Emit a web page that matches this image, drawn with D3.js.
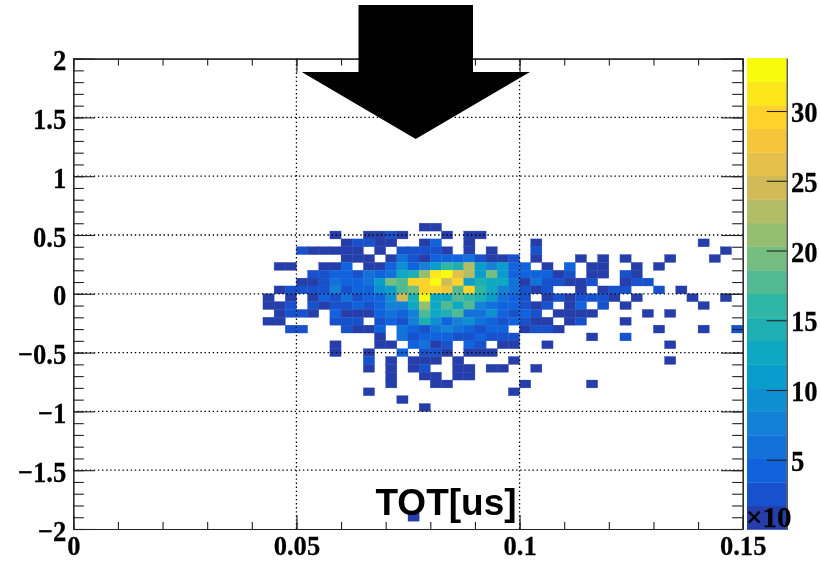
<!DOCTYPE html>
<html>
<head>
<meta charset="utf-8">
<script src="https://cdnjs.cloudflare.com/ajax/libs/d3/7.8.5/d3.min.js"></script>
<style>
html,body{margin:0;padding:0;background:#fff}
svg{display:block;filter:blur(0.4px)}
.tick text,.lab{font-family:"Liberation Serif",serif;font-weight:bold;font-size:29px;fill:#000;stroke:#000;stroke-width:.25}
.axis path,.axis line{stroke:#222;stroke-width:1.1;fill:none}
.grid line{stroke:#000;stroke-width:1.3;stroke-dasharray:1.4 2.7}
</style>
</head>
<body>
<svg id="c" width="820" height="561"></svg>
<script>
// ---- data ----
const xDomain = [0, 0.15];
const yDomain = [-2, 2];
const binsPerAxis = 60;
const xMajor = [0, 0.05, 0.1, 0.15];
const xLabels = ["0", "0.05", "0.1", "0.15"];
const yMajor = [-2, -1.5, -1, -0.5, 0, 0.5, 1, 1.5, 2];
const yLabels = ["\u22122", "\u22121.5", "\u22121", "\u22120.5", "0", "0.5", "1", "1.5", "2"];
const zMax = 33.8;
const zLevels = 20;
const zTicks = [5, 10, 15, 20, 25, 30];
const xTitle = "TOT[us]";
const zExponent = "\u00d710";
const birdR = [0.2082, 0.0592, 0.0780, 0.0232, 0.1802, 0.5301, 0.8186, 0.9956, 0.9764];
const birdG = [0.1664, 0.3599, 0.5041, 0.6419, 0.7178, 0.7492, 0.7328, 0.7862, 0.9832];
const birdB = [0.5293, 0.8684, 0.8385, 0.7914, 0.6425, 0.4662, 0.3499, 0.1968, 0.0539];
// y bin index (0 = just above y=0), first x bin of the run, then the counts
const rowBin = [8, 7, 6, 5, 4, 3, 2, 1, 0, -1, -2, -3, -4, -5, -6, -7, -8, -9, -10, -11, -12, -13, -14, -15, -29];
const rowStart = [31, 23, 24, 20, 24, 18, 21, 20, 18, 17, 17, 18, 17, 19, 27, 23, 23, 26, 26, 28, 28, 26, 29, 31, 30];
const rowCounts = [
  [1,1],
  [1,0,0,1,1,3,1,0,0,0,1,0,1,1],
  [1,3,3,1,1,0,0,1,4,0,0,1,0,0,0,0,0,1,0,0,0,0,0,0,0,0,0,0,0,0,0,0,1],
  [3,1,1,1,1,1,0,1,0,3,3,3,3,1,0,1,0,1,0,0,0,3,0,0,0,0,0,0,0,0,0,0,0,0,0,0,0,0,1],
  [1,1,1,0,1,6,3,1,4,4,4,6,3,1,1,3,0,1,0,0,0,1,0,1,0,1,0,0,0,1,0,0,0,1],
  [1,1,0,0,1,1,4,0,1,1,4,9,4,8,11,16,14,23,11,8,11,4,4,0,1,0,4,0,1,1,0,0,1,0,1],
  [3,3,4,4,3,6,4,6,13,14,21,31,33,26,23,11,19,11,4,4,4,4,1,3,0,1,1,0,3,1],
  [1,1,3,6,4,4,6,11,19,18,29,29,33,24,29,11,14,13,13,6,1,6,3,3,1,1,3,0,0,1,3,3],
  [1,3,3,3,3,8,3,4,4,9,11,18,19,29,29,28,18,29,16,13,8,6,3,1,3,0,0,1,0,1,3,3,0,0,3,0,1],
  [1,0,1,0,1,4,3,6,3,4,4,9,24,14,33,13,13,18,16,14,11,6,4,3,0,1,3,1,3,3,3,1,0,1,0,0,0,0,1,0,0,1],
  [1,1,3,0,3,1,3,3,4,3,4,8,8,13,21,13,18,13,18,8,6,4,4,3,1,3,0,1,4,0,3,0,1,0,0,0,0,0,0,1],
  [1,3,3,1,0,4,1,1,1,4,6,4,8,18,13,14,18,6,6,9,4,3,4,3,0,1,1,1,1,0,0,0,0,1,0,1],
  [1,1,0,0,0,0,3,3,3,0,3,4,3,8,14,9,4,8,9,6,4,3,4,3,1,1,0,1,3,0,0,0,1],
  [3,3,0,0,0,3,1,1,4,0,6,4,3,6,8,6,4,3,4,4,0,1,3,3,1,0,0,0,0,0,0,0,0,1,0,0,0,1,0,0,3],
  [1,0,6,3,4,4,4,3,3,4,3,3,3,0,0,0,0,0,0,1,0,0,3],
  [1,0,0,0,1,1,0,4,6,1,3,0,4,3,0,1,1,0,0,1,0,0,0,0,0,0,0,0,0,0,1],
  [1,0,0,1,0,0,4,0,3,3,1,0,1,1,1],
  [3,0,1,0,1,1,1,0,1,0,0,0,0,1,0,0,0,0,0,0,0,0,0,0,0,0,0,1],
  [1,0,1,0,1,3,0,0,1,1,0,1,1,0,0,1],
  [1,0,0,1,1,0,1,1],
  [1,0,0,0,1,1,0,0,0,0,0,0,1,0,0,0,0,0,1],
  [1,0,0,0,0,0,0,0,0,0,0,0,0,1],
  [1],
  [1],
  [1]
];
const arrowShaftX = [358.5, 473];
const arrowHeadX = [301.7, 415.7, 530];
const arrowY = [5, 72, 139];

// ---- scales ----
const x = d3.scaleLinear().domain(xDomain).range([73.3, 742.7]);
const y = d3.scaleLinear().domain(yDomain).range([529, 58.6]);
const z = d3.scaleLinear().domain([0, zMax]).range([529.5, 58]);
const stopT = birdR.map((_, i) => i / (birdR.length - 1));
const toRGB = (a) => d3.scaleLinear().domain(stopT).range(a.map(v => v * 255));
const rS = toRGB(birdR), gS = toRGB(birdG), bS = toRGB(birdB);
const band = d3.scaleQuantize().domain([0, zMax]).range(d3.range(zLevels));
const bandColor = k => { const t = (k + 1) / zLevels; return d3.rgb(rS(t), gS(t), bS(t)).formatHex(); };
const narrow = "scale(0.92,1)";

const svg = d3.select("#c");
svg.append("rect").attr("width", 820).attr("height", 561).attr("fill", "#fff");

// ---- cells ----
const cells = [];
rowBin.forEach((r, i) => rowCounts[i].forEach((v, j) => {
  if (v > 0) cells.push({ col: rowStart[i] + j, row: r, v });
}));
const xw = (xDomain[1] - xDomain[0]) / binsPerAxis;
const yw = (yDomain[1] - yDomain[0]) / binsPerAxis;
svg.append("g").selectAll("rect").data(cells).join("rect")
  .attr("x", d => x(d.col * xw))
  .attr("y", d => y((d.row + 1) * yw))
  .attr("width", x(xw) - x(0))
  .attr("height", y(0) - y(yw))
  .attr("fill", d => bandColor(band(d.v)))
  .attr("stroke", d => bandColor(band(d.v)))
  .attr("stroke-width", 0.35);

// ---- grid ----
const grid = svg.append("g").attr("class", "grid");
grid.selectAll(".gx").data(xMajor.slice(1, -1)).join("line")
  .attr("class", "gx")
  .attr("x1", d => x(d)).attr("x2", d => x(d)).attr("y1", y(yDomain[0])).attr("y2", y(yDomain[1]));
grid.selectAll(".gy").data(yMajor.slice(1, -1)).join("line")
  .attr("class", "gy")
  .attr("y1", d => y(d)).attr("y2", d => y(d)).attr("x1", x(xDomain[0])).attr("x2", x(xDomain[1]));

// ---- axes ----
const T = (gen, tx, ty) => svg.append("g").attr("class", "axis").attr("transform", `translate(${tx},${ty})`).call(gen);
const xMinor = d3.range(0, 0.1501, 0.01);
const yMinor = d3.range(-2, 2.001, 0.1);
const frameBottom = y(yDomain[0]), frameTop = y(yDomain[1]), frameLeft = x(xDomain[0]), frameRight = x(xDomain[1]);
const noText = () => "";
T(d3.axisBottom(x).tickValues(xMinor).tickSizeInner(-7).tickSizeOuter(0).tickFormat(noText), 0, frameBottom);
T(d3.axisTop(x).tickValues(xMinor).tickSizeInner(-7).tickSizeOuter(0).tickFormat(noText), 0, frameTop);
T(d3.axisLeft(y).tickValues(yMinor).tickSizeInner(-10.5).tickSizeOuter(0).tickFormat(noText), frameLeft, 0);
T(d3.axisRight(y).tickValues(yMinor).tickSizeInner(-10.5).tickSizeOuter(0).tickFormat(noText), frameRight, 0);
T(d3.axisTop(x).tickValues(xMajor).tickSizeInner(-14).tickSizeOuter(0).tickFormat(noText), 0, frameTop);
T(d3.axisRight(y).tickValues(yMajor).tickSizeInner(-21.5).tickSizeOuter(0).tickFormat(noText), frameRight, 0);
T(d3.axisBottom(x).tickValues(xMajor).tickSizeInner(-14).tickSizeOuter(0).tickPadding(25.8)
  .tickFormat((d, i) => xLabels[i]), 0, frameBottom)
  .selectAll("text").attr("dy", 0).style("font-size", "28px").attr("transform", "scale(0.95,1)");
T(d3.axisLeft(y).tickValues(yMajor).tickSizeInner(-21.5).tickSizeOuter(0).tickPadding(7.6)
  .tickFormat((d, i) => yLabels[i]), frameLeft, 0)
  .selectAll("text").attr("dy", 11).attr("transform", narrow);

// ---- colour bar ----
svg.append("g").selectAll("rect").data(d3.range(zLevels)).join("rect")
  .attr("x", 747).attr("width", 39.7)
  .attr("y", k => z((k + 1) * zMax / zLevels))
  .attr("height", z(0) - z(zMax / zLevels) + 0.3)
  .attr("fill", k => bandColor(k));
T(d3.axisRight(z).tickValues(zTicks).tickSizeInner(-20).tickSizeOuter(0).tickPadding(4)
  .tickFormat(d3.format("d")), 786.7, 0)
  .selectAll("text").attr("dy", 10.5).attr("x", 4.6).attr("transform", narrow);
svg.append("text").attr("class", "lab").attr("x", 746).attr("y", 527).attr("font-size", 29).text(zExponent);

// ---- arrow ----
const arrow = [
  [arrowShaftX[0], arrowY[0]], [arrowShaftX[1], arrowY[0]], [arrowShaftX[1], arrowY[1]],
  [arrowHeadX[2], arrowY[1]], [arrowHeadX[1], arrowY[2]], [arrowHeadX[0], arrowY[1]],
  [arrowShaftX[0], arrowY[1]]
];
svg.append("path").attr("d", d3.line()(arrow) + "Z").attr("fill", "#000");

// ---- title ----
svg.append("text").attr("x", 446).attr("y", 514.5).attr("text-anchor", "middle")
  .attr("font-family", "Liberation Sans").attr("font-weight", "bold").attr("font-size", 37)
  .text(xTitle);
</script>
</body>
</html>
